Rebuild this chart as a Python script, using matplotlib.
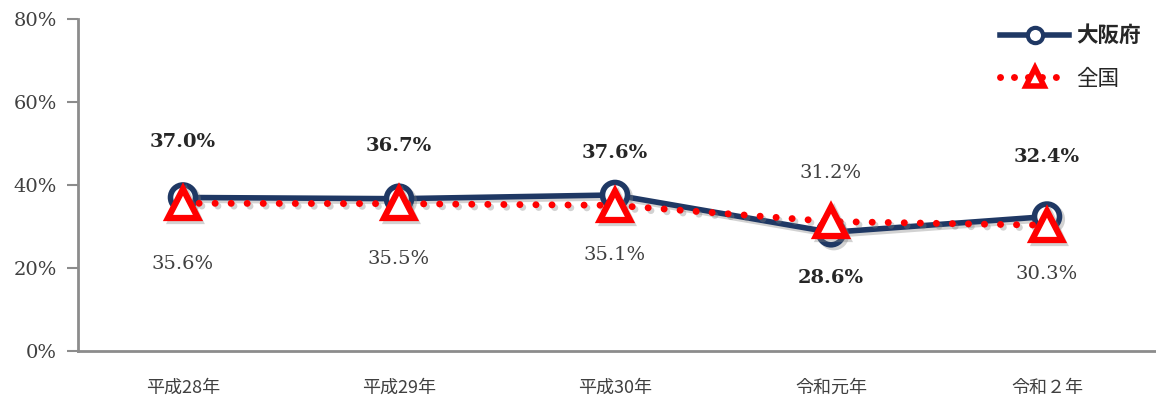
import matplotlib.pyplot as plt
import matplotlib.patheffects as pe
from matplotlib.lines import Line2D

categories = ["平成28年", "平成29年", "平成30年", "令和元年", "令和２年"]
osaka = [37.0, 36.7, 37.6, 28.6, 32.4]
national = [35.6, 35.5, 35.1, 31.2, 30.3]
yticks = [0, 20, 40, 60, 80]

# label offset in points: positive = above
osaka_off = [40, 38, 30, -33, 43]
national_off = [-44, -40, -36, 35, -35]

NAVY = "#1F3864"
RED = "#FF0000"
GRAY = "#8C8C8C"
SERIF = ["DejaVu Serif"]
CJK = ["Noto Sans CJK JP", "DejaVu Sans"]

plt.rcParams["font.family"] = CJK

fig = plt.figure(figsize=(11.56, 4.03), dpi=100)
ax = fig.add_axes([78 / 1156, 52 / 403, 1077 / 1156, 332 / 403])

x = list(range(len(categories)))
shadow = [pe.SimpleLineShadow(offset=(2, -2), shadow_color="gray", alpha=0.35), pe.Normal()]

ax.plot(x, osaka, color=NAVY, linewidth=4, marker="o", markersize=18,
        markerfacecolor="white", markeredgecolor=NAVY, markeredgewidth=4,
        zorder=3, path_effects=shadow)
ax.plot(x, national, color=RED, linewidth=5, linestyle=(0, (0.01, 2.3)),
        dash_capstyle="round", zorder=4, path_effects=shadow)
ax.plot(x, national, linestyle="none", marker="^", markersize=21,
        markerfacecolor="white", markeredgecolor=RED, markeredgewidth=4.5,
        zorder=5, path_effects=shadow)

for i in x:
    ax.annotate(f"{osaka[i]:.1f}%", (i, osaka[i]), xytext=(0, osaka_off[i]),
                textcoords="offset points", ha="center", va="center",
                fontsize=14, fontweight="bold", color="#262626", family=SERIF)
    ax.annotate(f"{national[i]:.1f}%", (i, national[i]), xytext=(0, national_off[i]),
                textcoords="offset points", ha="center", va="center",
                fontsize=14, color="#404040", family=SERIF)

ax.set_xlim(-105 / 216, len(categories) - 0.5)
ax.set_ylim(0, 80)
ax.set_yticks(yticks)
ax.set_yticklabels([f"{v}%" for v in yticks], family=SERIF, fontsize=14, color="#404040")
ax.set_xticks(x)
ax.set_xticklabels(categories, fontsize=13, color="#404040")
ax.tick_params(axis="x", length=0, pad=20)
ax.tick_params(axis="y", length=8, width=1.5, color=GRAY, pad=7)

for s in ["top", "right"]:
    ax.spines[s].set_visible(False)
for s in ["left", "bottom"]:
    ax.spines[s].set_color(GRAY)
    ax.spines[s].set_linewidth(2)

handles = [
    Line2D([], [], color=NAVY, linewidth=4, marker="o", markersize=11,
           markerfacecolor="white", markeredgecolor=NAVY, markeredgewidth=3),
    Line2D([], [], color=RED, linewidth=5, linestyle=(0, (0.01, 2.0)),
           dash_capstyle="round", marker="^", markersize=13,
           markerfacecolor="white", markeredgecolor=RED, markeredgewidth=4),
]
leg = ax.legend(handles, ["大阪府", "全国"], loc="upper right", bbox_to_anchor=(1.005, 1.04),
                frameon=False, handlelength=3.2, fontsize=15.5, labelspacing=1.0,
                handletextpad=0.35)
leg.get_texts()[0].set_fontweight("bold")
for t in leg.get_texts():
    t.set_color("#262626")

fig.savefig("out.png", dpi=100)
